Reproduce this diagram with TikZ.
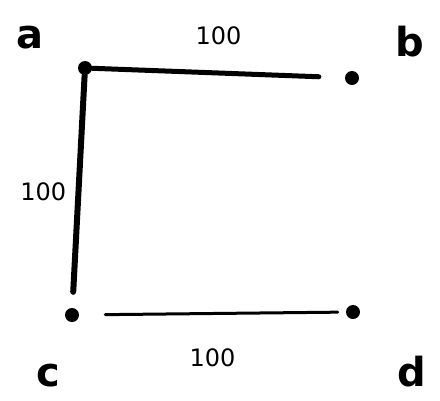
\documentclass[tikz,border=0pt]{standalone}
\usepackage{fontspec}
\setmainfont{DejaVu Sans}
\begin{document}
\begin{tikzpicture}[x=1pt,y=-1pt,
  vtx/.style={circle,fill=black,inner sep=0pt,minimum size=14pt},
  lbl/.style={font=\bfseries\fontsize{40}{40}\selectfont},
  wt/.style={font=\fontsize{24}{24}\selectfont},
  edge/.style={line cap=round,line width=#1},
  edge/.default=4pt]
\useasboundingbox (0,0) rectangle (440,400);
\node[vtx] (a) at (85,68) {};
\node[vtx] (b) at (352,78) {};
\node[vtx] (c) at (72,315) {};
\node[vtx] (d) at (353,312) {};
\node[lbl] (la) at (30,38) {a};
\node[lbl] (lb) at (410,42) {b};
\node[lbl] (lc) at (48,376) {c};
\node[lbl] (ld) at (412,372) {d};
\draw[edge=5pt,shorten >=26pt] (a) -- (b) node[wt,pos=0.5,above=22pt] {100};
\draw[edge=6pt,shorten >=16pt] (a) -- (c) node[wt,midway,left=6pt] {100};
\draw[edge=3pt,shorten <=26pt,shorten >=8pt] (c) -- (d) node[wt,midway,below=30pt] {100};
\end{tikzpicture}
\end{document}
